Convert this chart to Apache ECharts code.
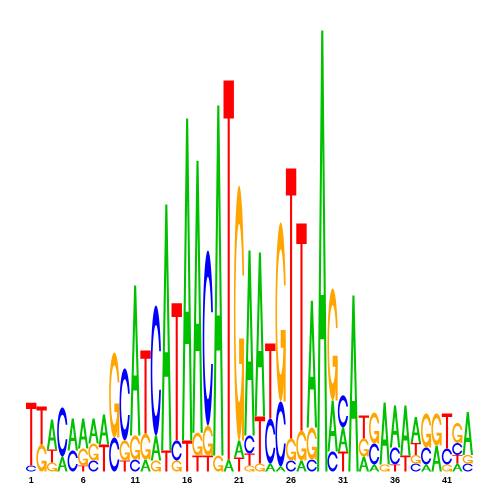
<!DOCTYPE html>
<html><head><meta charset="utf-8">
<script src="https://cdn.jsdelivr.net/npm/echarts@6/dist/echarts.min.js"></script>
<style>html,body{margin:0;padding:0;background:#fff}#c{width:500px;height:500px}</style>
</head><body><div id="c"></div>
<script>
// positions
const positions = Array.from({length:43},(_, k)=>String(k+1));
// letter heights (bits) per position
const valA = [0,0,0.136,0.068,0.145,0.136,0.113,0.136,0,0,0.680,0.054,0.113,1.114,0,1.459,1.232,0,1.586,0.054,0.077,0.838,0.743,0.036,0.023,0,0.050,0.575,1.998,0.231,0.109,0.797,0.068,0.032,0.281,0.190,0.227,0.118,0.032,0.118,0,0.036,0.195];
const valC = [0.027,0,0,0.222,0.095,0,0.050,0,0.154,0.326,0.054,0,0.589,0,0.091,0,0,0.793,0,0,0,0.082,0,0.204,0.294,0.050,0,0.054,0,0.091,0.145,0,0,0.095,0,0.077,0,0.036,0.077,0,0.072,0.054,0.036];
const valG = [0,0.122,0.041,0,0,0.077,0.077,0,0.385,0.091,0.109,0.118,0.050,0,0.050,0,0.104,0.136,0.072,0,1.155,0.027,0.036,0,0.811,0.100,0.136,0.145,0,0.507,0,0,0.082,0.140,0.032,0,0,0.039,0.154,0.145,0.032,0.091,0.039];
const valT = [0.285,0.172,0.059,0,0,0.027,0,0.122,0,0.050,0,0.376,0,0.095,0.621,0.140,0.072,0.072,0,1.717,0.063,0.054,0.213,0.340,0,1.223,0.938,0,0,0,0.091,0,0.104,0,0,0.032,0.072,0.054,0,0,0.159,0.039,0];
const colors = {A:'#00C000', C:'#0000FF', G:'#FFA500', T:'#FF0000'};

// glyph outlines (unit box, v up) after classic seqLogo letter polygons
function ringPts(){
  const n=100, a1=[], a2=[];
  for(let k=0;k<n;k++){a1.push(0.3+Math.PI/2+(Math.PI-(0.3+Math.PI/2))*k/(n-1)); a2.push(Math.PI+(0.5*Math.PI)*k/(n-1));}
  const xl=[...a1,...a2].map(a=>0.5+0.5*Math.sin(a));
  const yl=[...a1,...a2].map(a=>0.5+0.5*Math.cos(a));
  const yl1max=Math.max(...a1.map(a=>0.5+0.5*Math.cos(a)));
  const xl1max=Math.max(...a1.map(a=>0.5+0.5*Math.sin(a)));
  const ox=[...xl,...xl.slice().reverse()];
  const oy=[...yl,...yl.slice().reverse().map(v=>1-v)];
  let xi1=[],yi1=[];
  a1.forEach(a=>{const y=0.5+0.35*Math.cos(a); if(y<=yl1max){xi1.push(0.5+0.35*Math.sin(a)); yi1.push(y);}});
  yi1[0]=yl1max;
  const xi2=a2.map(a=>0.5+0.35*Math.sin(a)), yi2=a2.map(a=>0.5+0.35*Math.cos(a));
  const xi=[...xi1,...xi2], yi=[...yi1,...yi2];
  const ix=[...xi,...xi.slice().reverse()];
  const iy=[...yi,...yi.slice().reverse().map(v=>1-v)];
  const X=[...ox,...ix.slice().reverse()], Y=[...oy,...iy.slice().reverse()];
  return {pts:X.map((x,k)=>[x,Y[k]]), r1:xl1max};
}
const ring=ringPts();
const glyphs={
  A:[{pts:[[0,0],[0.4,1],[0.6,1],[1,0],[0.8,0],[0.68,0.3],[0.32,0.3],[0.2,0]],fill:colors.A},
     {pts:[[0.36,0.4],[0.5,0.75],[0.64,0.4]],fill:'#FFFFFF'}],
  C:[{pts:ring.pts,fill:colors.C}],
  G:[{pts:ring.pts,fill:colors.G},
     {pts:[[ring.r1,0.4],[0.5,0.4],[0.5,0.3],[ring.r1-0.2,0.3],[ring.r1-0.2,0],[ring.r1,0]],fill:colors.G}],
  T:[{pts:[[0,1],[1,1],[1,0.9],[0.6,0.9],[0.6,0],[0.4,0],[0.4,0.9],[0,0.9]],fill:colors.T}]
};

const chart=echarts.init(document.getElementById('c'),null,{renderer:'canvas'});
chart.setOption({
  animation:false,
  backgroundColor:'#ffffff',
  grid:{left:26,right:27,top:30,bottom:28.5},
  xAxis:{type:'category',data:positions,boundaryGap:true,
    axisLine:{show:false},axisTick:{show:false},splitLine:{show:false},
    axisLabel:{interval:4,margin:5,fontSize:9,fontWeight:'bold',color:'#000',fontFamily:'Liberation Sans, Arial, sans-serif'}},
  yAxis:{type:'value',min:0,max:2,show:false},
  series:[{
    type:'custom',silent:true,
    data:positions.map((p,i)=>[i,valA[i]+valC[i]+valG[i]+valT[i]]),
    renderItem:function(params,api){
      const i=api.value(0);
      const letters=[['A',valA[i]],['C',valC[i]],['G',valG[i]],['T',valT[i]]].filter(d=>d[1]>0).sort((a,b)=>a[1]-b[1]);
      const base=api.coord([i,0]);
      const bw=api.size([1,0])[0];
      const x0=base[0]-bw/2;
      let acc=0; const children=[];
      letters.forEach(([L,h])=>{
        const yb=api.coord([i,acc])[1];
        const yt=api.coord([i,acc+h])[1];
        const hp=yb-yt;
        glyphs[L].forEach(part=>{
          children.push({type:'polygon',shape:{points:part.pts.map(p=>[x0+p[0]*bw,yb-p[1]*hp])},style:{fill:part.fill}});
        });
        acc+=h;
      });
      return {type:'group',children:children};
    }
  }]
});
</script></body></html>
